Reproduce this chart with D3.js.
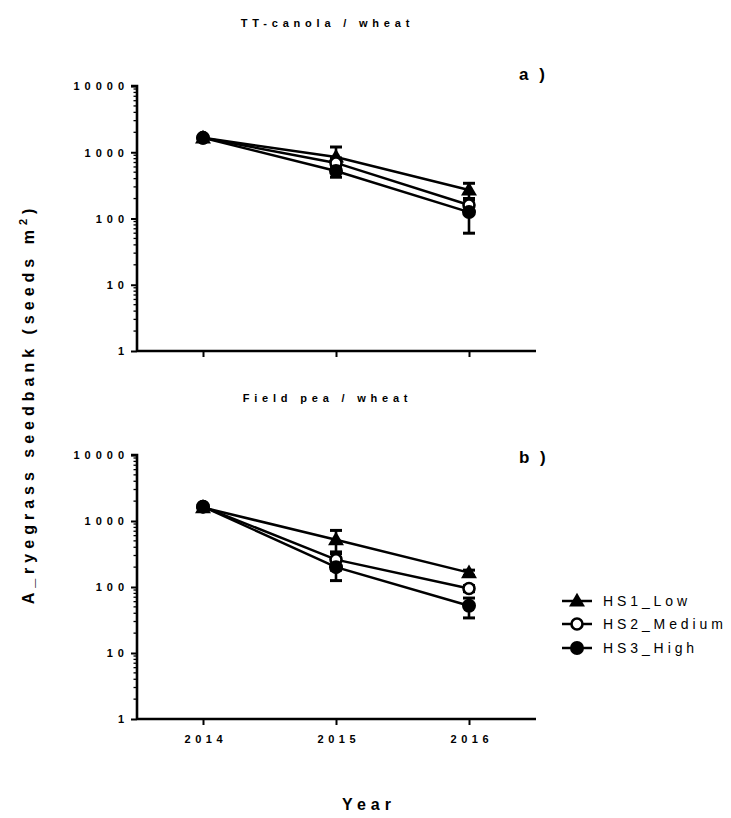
<!DOCTYPE html>
<html>
<head>
<meta charset="utf-8">
<script src="https://cdn.jsdelivr.net/npm/d3@7"></script>
<style>
  body { margin: 0; background: #fff; }
  text { font-family: "Liberation Sans", Arial, sans-serif; fill: #000; }
</style>
</head>
<body>
<div id="chart"></div>
<script>
// years on the x axis
const years = [2014, 2015, 2016];
const seriesNames = ['HS1_Low', 'HS2_Medium', 'HS3_High'];
const yTicks = [1, 10, 100, 1000, 10000];

// panel a) TT-canola / wheat : mean, lower and upper error values
const canolaMean = [[1650, 850, 270], [1650, 690, 160], [1650, 520, 125]];
const canolaLow  = [[1600, 500, 200], [1600, 560, 120], [1600, 420, 60]];
const canolaHigh = [[1700, 1200, 340], [1700, 820, 200], [1700, 620, 190]];

// panel b) Field pea / wheat
const peaMean = [[1600, 520, 165], [1650, 260, 95], [1650, 200, 52]];
const peaLow  = [[1500, 320, 150], [1600, 180, 85], [1600, 125, 34]];
const peaHigh = [[1700, 720, 180], [1700, 340, 105], [1700, 280, 68]];

const W = 731, H = 818;
const svg = d3.select('#chart').append('svg')
  .attr('width', W).attr('height', H);

const x = d3.scalePoint().domain(years).range([203, 469]);
const xAxisRange = [137, 536];

const panels = [
  { title: 'TT-canola / wheat', tag: 'a )', top: 86, bottom: 351, titleY: 27, tagY: 80,
    mean: canolaMean, lo: canolaLow, hi: canolaHigh, labels: false },
  { title: 'Field pea / wheat', tag: 'b )', top: 455, bottom: 719, titleY: 402, tagY: 463,
    mean: peaMean, lo: peaLow, hi: peaHigh, labels: true }
];

// marker drawing
function marker(g, i, cx, cy) {
  if (i === 0) {
    g.append('path')
      .attr('d', d3.symbol().type(d3.symbolTriangle).size(110)())
      .attr('transform', `translate(${cx},${cy + 1})`)
      .attr('fill', '#000');
  } else if (i === 1) {
    g.append('circle').attr('cx', cx).attr('cy', cy).attr('r', 5.5)
      .attr('fill', '#fff').attr('stroke', '#000').attr('stroke-width', 2.6);
  } else {
    g.append('circle').attr('cx', cx).attr('cy', cy).attr('r', 7)
      .attr('fill', '#000');
  }
}

panels.forEach(p => {
  const y = d3.scaleLog().domain([1, 10000]).range([p.bottom, p.top]);
  const g = svg.append('g');

  // minor log ticks
  const minor = [];
  for (let d = 1; d < 10000; d *= 10) for (let k = 2; k <= 9; k++) minor.push(d * k);
  g.selectAll('.minor').data(minor).join('line')
    .attr('x1', xAxisRange[0] - 3.5).attr('x2', xAxisRange[0])
    .attr('y1', d => y(d)).attr('y2', d => y(d))
    .attr('stroke', '#000').attr('stroke-width', 1.3);

  const yAxis = d3.axisLeft(y).tickValues(yTicks).tickFormat(d3.format('d'))
    .tickSize(6).tickPadding(2);
  const ya = g.append('g').attr('transform', `translate(${xAxisRange[0]},0)`).call(yAxis);
  ya.select('.domain').attr('stroke-width', 2.6).attr('d', `M-6,${p.top}H0V${p.bottom}`);
  ya.selectAll('.tick line').attr('stroke-width', 2);
  ya.selectAll('.tick text')
    .style('font-family', '"Liberation Sans", Arial, sans-serif')
    .style('font-size', '11px').style('font-weight', 'bold').style('letter-spacing', '5px')
    .attr('dy', '0.35em');

  // x axis
  const xAxis = d3.axisBottom(x).tickSize(6).tickPadding(10)
    .tickFormat(p.labels ? d3.format('d') : () => '');
  const xa = g.append('g').attr('transform', `translate(0,${p.bottom})`).call(xAxis);
  xa.select('.domain').attr('stroke-width', 2.6)
    .attr('d', `M${xAxisRange[0]},0H${xAxisRange[1]}`);
  xa.selectAll('.tick line').attr('stroke-width', 2);
  xa.selectAll('.tick text')
    .attr('x', 2.3)
    .style('font-family', '"Liberation Sans", Arial, sans-serif')
    .style('font-size', '11px').style('font-weight', 'bold').style('letter-spacing', '4.5px');

  // titles
  svg.append('text').attr('x', 327.5).attr('y', p.titleY).attr('text-anchor', 'middle')
    .style('font-size', '11px').style('font-weight', 'bold').style('letter-spacing', '4.8px')
    .text(p.title);
  svg.append('text').attr('x', 519).attr('y', p.tagY)
    .style('font-size', '17px').style('font-weight', 'bold').style('letter-spacing', '3px')
    .text(p.tag);

  const line = d3.line().x((d, j) => x(years[j])).y(d => y(d));

  // lines
  p.mean.forEach(vals => {
    g.append('path').datum(vals).attr('d', line)
      .attr('fill', 'none').attr('stroke', '#000').attr('stroke-width', 2.5);
  });

  // error bars
  p.mean.forEach((vals, i) => {
    vals.forEach((v, j) => {
      const cx = x(years[j]);
      const y0 = y(p.lo[i][j]), y1 = y(p.hi[i][j]);
      g.append('line').attr('x1', cx).attr('x2', cx).attr('y1', y0).attr('y2', y1)
        .attr('stroke', '#000').attr('stroke-width', 2.6);
      [y0, y1].forEach(yy => {
        g.append('line').attr('x1', cx - 6).attr('x2', cx + 6).attr('y1', yy).attr('y2', yy)
          .attr('stroke', '#000').attr('stroke-width', 3);
      });
    });
  });

  // markers
  p.mean.forEach((vals, i) => {
    vals.forEach((v, j) => marker(g, i, x(years[j]), y(v)));
  });
});

// axis titles
svg.append('text').attr('x', 369).attr('y', 810).attr('text-anchor', 'middle')
  .style('font-size', '16px').style('font-weight', 'bold').style('letter-spacing', '5px')
  .text('Year');

const yl = svg.append('text')
  .attr('transform', 'translate(34,404) rotate(-90)')
  .attr('text-anchor', 'middle')
  .style('font-size', '16px').style('font-weight', 'bold').style('letter-spacing', '5px');
yl.append('tspan').text('A_ryegrass seedbank (seeds m');
yl.append('tspan').attr('dy', -7).style('font-size', '11px').text('2');
yl.append('tspan').attr('dy', 7).text(')');

// legend
const legY = [601, 624, 648];
seriesNames.forEach((name, i) => {
  const lg = svg.append('g');
  lg.append('line').attr('x1', 562).attr('x2', 592).attr('y1', legY[i]).attr('y2', legY[i])
    .attr('stroke', '#000').attr('stroke-width', 2.5);
  marker(lg, i, 577, legY[i]);
  lg.append('text').attr('x', 603).attr('y', legY[i]).attr('dy', '0.36em')
    .style('font-size', '14px').style('letter-spacing', '3.9px')
    .text(name);
});
</script>
</body>
</html>
